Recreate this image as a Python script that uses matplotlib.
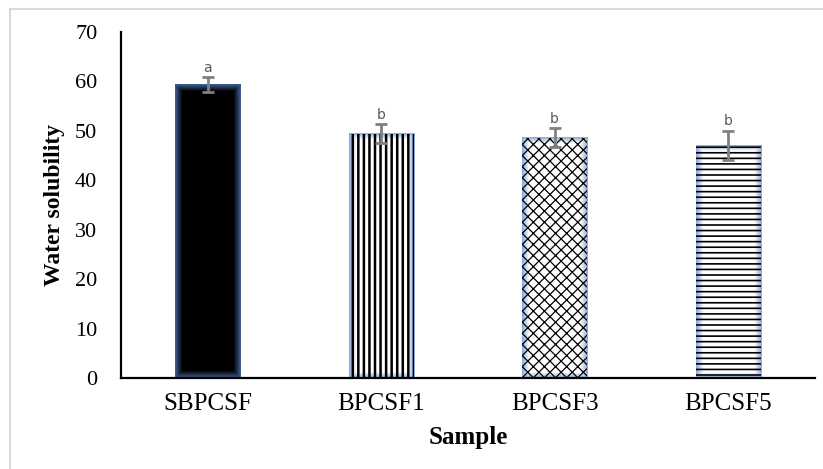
import numpy as np
import matplotlib as mpl
import matplotlib.pyplot as plt
from matplotlib.colors import to_rgb
from matplotlib.lines import Line2D

# data
samples = ['SBPCSF', 'BPCSF1', 'BPCSF3', 'BPCSF5']
solubility = [59.3, 49.4, 48.6, 47.0]
errors = [1.5, 1.9, 1.9, 3.0]
letters = ['a', 'b', 'b', 'b']

hatches = [None, '|||', 'xxx', '---']
hatch_lw = [1.0, 1.8, 0.9, 1.2]
centers = ['black', 'white', 'white', 'white']
glows = ['#3d5b8f', '#8eaadb', '#8eaadb', '#8eaadb']

plt.rcParams['font.family'] = ['Liberation Serif', 'DejaVu Serif']

fig = plt.figure(figsize=(8.23, 4.69), dpi=100)
ax = fig.add_axes([0.147, 0.194, 0.843, 0.738])

x = list(range(len(samples)))
bars = ax.bar(x, solubility, width=0.375, color='none', linewidth=0, zorder=2)

# soft bluish glow at bar edges (gradient image clipped to each bar)
for i, b in enumerate(bars):
    h, w = 300, 66
    yy, xx = np.mgrid[0:h, 0:w]
    d = np.minimum.reduce([xx, w - 1 - xx, yy, h - 1 - yy]).astype(float)
    t = np.clip(d / 7.0, 0, 1)[..., None]
    img = np.array(to_rgb(glows[i])) * (1 - t) + np.array(to_rgb(centers[i])) * t
    ax.imshow(img, extent=[b.get_x(), b.get_x() + b.get_width(), 0, b.get_height()],
              aspect='auto', zorder=2, interpolation='bilinear')

# hatch overlay in black
for i in x:
    if hatches[i]:
        with mpl.rc_context({'hatch.linewidth': hatch_lw[i]}):
            ax.bar(i, solubility[i], width=0.375, color='none', edgecolor='black',
                   hatch=hatches[i], linewidth=0, zorder=3)

ax.errorbar(x, solubility, yerr=errors, fmt='none', ecolor='#808080',
            elinewidth=2, capsize=4, capthick=2, zorder=4)

for i in x:
    ax.text(i, solubility[i] + errors[i] + 0.5, letters[i], ha='center', va='bottom',
            fontsize=10, color='#595959', family='DejaVu Sans')

ax.set_xlim(-0.5, 3.5)
ax.set_ylim(0, 70)
ax.set_yticks(range(0, 71, 10))
ax.set_xticks(x)
ax.set_xticklabels(samples)
ax.tick_params(axis='x', length=0, labelsize=18, pad=11)
ax.tick_params(axis='y', length=0, labelsize=16, pad=17)

ax.spines['top'].set_visible(False)
ax.spines['right'].set_visible(False)
ax.spines['left'].set_linewidth(1.6)
ax.spines['bottom'].set_linewidth(1.6)

ax.set_xlabel('Sample', fontsize=18, fontweight='bold', labelpad=8)
ax.set_ylabel('Water solubility', fontsize=17, fontweight='bold', labelpad=7)

# light gray chart border
fig.add_artist(Line2D([10/823, 10/823], [0, 1 - 9/469], color='#d9d9d9', lw=1.5))
fig.add_artist(Line2D([10/823, 1], [1 - 9/469, 1 - 9/469], color='#d9d9d9', lw=1.5))

fig.savefig('out.png', dpi=100)
